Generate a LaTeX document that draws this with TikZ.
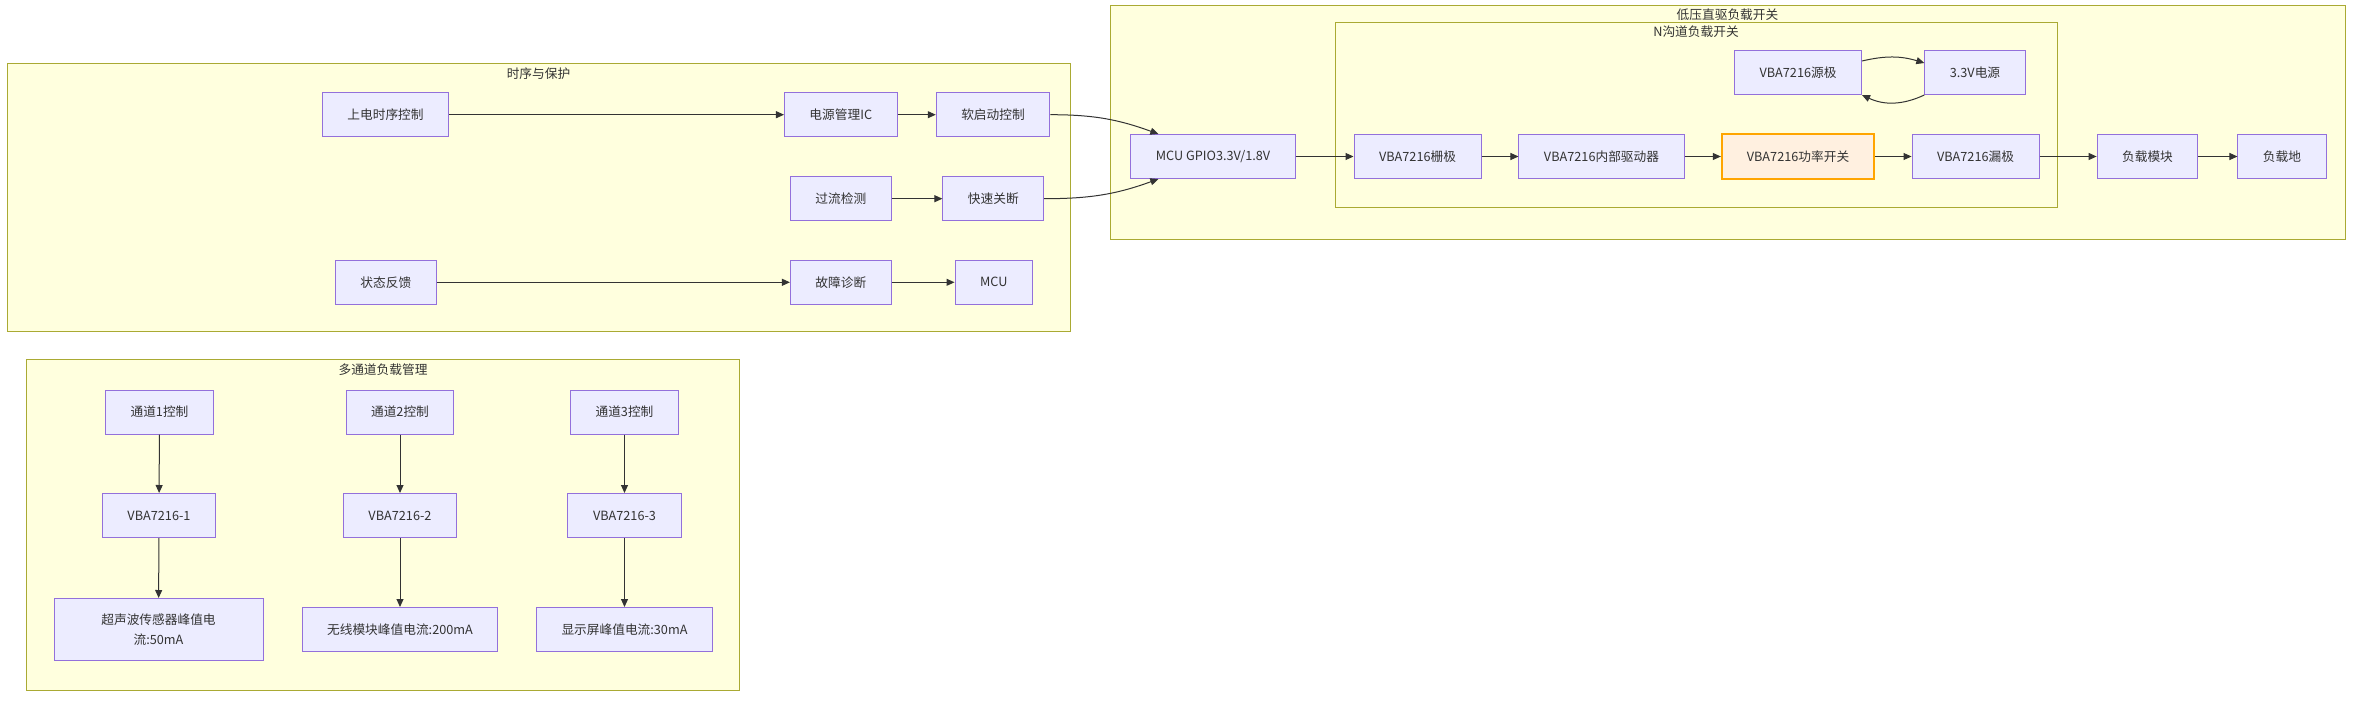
\documentclass[tikz,border=0pt]{standalone}
\usepackage{fontspec}
\setmainfont{Noto Sans CJK SC}
\usepackage{tikz}
\usetikzlibrary{
	arrows.meta,
	positioning,
}
\definecolor{boxfill}{HTML}{ECECFF}
\definecolor{boxline}{HTML}{9370DB}
\definecolor{grpfill}{HTML}{FFFFDE}
\definecolor{grpline}{HTML}{AAAA33}
\definecolor{ink}{HTML}{333333}
\definecolor{hotfill}{HTML}{FFF0E0}
\definecolor{hotline}{HTML}{FFA500}
\tikzset{default node/.style={draw=boxline,fill=boxfill,line width=1pt,text=ink,inner xsep=25pt,minimum height=44pt,font=\fontsize{12.7}{20.3}\selectfont,}}
\tikzset{title/.style={draw=none,fill=none,inner sep=0pt,minimum height=0pt,}}
\tikzset{hot/.style={draw=hotline,fill=hotfill,line width=2pt,}}
\tikzset{group/.style={draw=grpline,fill=grpfill,line width=1pt,}}
\tikzset{
	>={Triangle[length=8pt,width=7pt]},
}

\begin{document}
\begin{tikzpicture}[x=1pt,y=-1pt,color=ink,line width=1pt,every node/.style={default node}]
\useasboundingbox (0,0) rectangle (2368,706);

% groups
\draw[group] (7,64) rectangle (1070,331);
\node[title] at (538.5,73.5) {时序与保护};
\draw[group] (1110,6) rectangle (2345,239);
\node[title] at (1727.5,15) {低压直驱负载开关};
\draw[group] (1335,23) rectangle (2057,207);
\node[title] at (1696,32) {N沟道负载开关};
\draw[group] (26.5,359) rectangle (739.5,690);
\node[title] at (383,369.5) {多通道负载管理};

% timing and protection
\node(pwr) at(385.5,114.7) {上电时序控制};
\node(pmic) at(840.8,114.7) {电源管理IC};
\node(soft) at(993,114.7) {软启动控制};
\node(oc) at(840.8,198.7) {过流检测};
\node(fast) at(993.3,198.7) {快速关断};
\node(fb) at(385.8,282.3) {状态反馈};
\node(diag) at(840.8,282.3) {故障诊断};
\node(mcu) at(993.7,282.3) {MCU};

% load switch
\node(gpio) at(1213,156.5) {MCU GPIO3.3V/1.8V};
\node(gate) at(1417.5,156.5) {VBA7216栅极};
\node(drv) at(1601.5,156.5) {VBA7216内部驱动器};
\node[hot](sw) at(1798,156.5) {VBA7216功率开关};
\node(drain) at(1975.5,156.5) {VBA7216漏极};
\node(load) at(2147.5,156.5) {负载模块};
\node(gnd) at(2282,156.5) {负载地};
\node(src) at(1798,72.5) {VBA7216源极};
\node(vcc) at(1975,72.5) {3.3V电源};

% channels
\node(c1) at(159.5,412) {通道1控制};
\node(c2) at(400,412) {通道2控制};
\node(c3) at(624.5,412) {通道3控制};
\node(v1) at(159,515.5) {VBA7216-1};
\node(v2) at(400,515.5) {VBA7216-2};
\node(v3) at(624.5,515.5) {VBA7216-3};
\node[align=center,minimum width=209pt,minimum height=62pt](p1) at(158.5,629.5) {超声波传感器峰值电\\流:50mA};
\node(p2) at(400,629.5) {无线模块峰值电流:200mA};
\node(p3) at(624.5,629.5) {显示屏峰值电流:30mA};

\draw[->] (pwr) -- (pmic);
\draw[->] (pmic) -- (soft);
\draw[->] (oc) -- (fast);
\draw[->] (fb) -- (diag);
\draw[->] (diag) -- (mcu);
\draw[->] (soft) to[out=0,in=160] ([xshift=28pt]gpio.north west);
\draw[->] (fast) to[out=0,in=200] ([xshift=28pt]gpio.south west);

\draw[->] (gpio) -- (gate);
\draw[->] (gate) -- (drv);
\draw[->] (drv) -- (sw);
\draw[->] (sw) -- (drain);
\draw[->] (drain) -- (load);
\draw[->] (load) -- (gnd);
\draw[->] ([yshift=11.5pt]src.east) to[bend left=15] ([yshift=9.5pt]vcc.west);
\draw[->] (vcc.south west) to[bend left=25] (src.south east);

\draw[->] (c1) -- (v1);
\draw[->] (c2) -- (v2);
\draw[->] (c3) -- (v3);
\draw[->] (v1) -- (p1);
\draw[->] (v2) -- (p2);
\draw[->] (v3) -- (p3);

\end{tikzpicture}
\end{document}
